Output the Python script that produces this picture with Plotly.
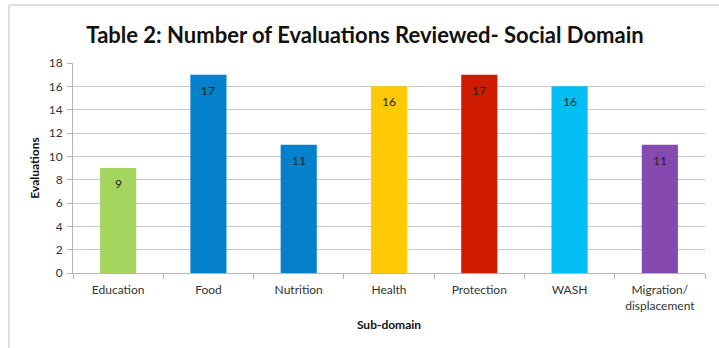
import plotly.graph_objects as go

categories = ["Education", "Food", "Nutrition", "Health", "Protection", "WASH", "Migration/<br>displacement"]
values = [9, 17, 11, 16, 17, 16, 11]
colors = ["#A3D55F", "#0580CB", "#0580CB", "#FFCA05", "#CF1B00", "#03BEF2", "#8549B0"]
y_ticks = list(range(0, 19, 2))

W, H = 719, 348
ml, mr, mt, mb = 73, 14, 63, 75
pw, ph = W - ml - mr, H - mt - mb

def px_x(x):
    return (x - ml) / pw

def px_y(y):
    return (H - mb - y) / ph

FONT = "Lato, 'Open Sans', sans-serif"

fig = go.Figure(go.Bar(
    x=categories, y=values, marker=dict(color=colors, line=dict(width=0)),
    width=0.4, hoverinfo="skip",
))

for c, v in zip(categories, values):
    fig.add_annotation(x=c, y=v, text=str(v), showarrow=False, yanchor="top",
                       yshift=-6, font=dict(family=FONT, size=12, color="#222"))

fig.update_layout(
    width=W, height=H, margin=dict(l=ml, r=mr, t=mt, b=mb),
    paper_bgcolor="white", plot_bgcolor="white",
    showlegend=False,
    title=dict(text="<b>Table 2: Number of Evaluations Reviewed- Social Domain</b>",
               x=(365) / W, xanchor="center", y=1 - 35 / H, yanchor="middle",
               font=dict(family=FONT, size=22, color="#111")),
    font=dict(family=FONT, size=12, color="#333"),
    bargap=0.6,
)
fig.update_xaxes(
    showline=True, linecolor="#b5b5b5", linewidth=1,
    ticks="outside", tickson="boundaries", ticklen=5, tickcolor="#b5b5b5",
    ticklabelstandoff=6,
    tickfont=dict(family=FONT, size=12, color="#333"),
    title=dict(text="<b>Sub-domain</b>", font=dict(family=FONT, size=12, color="#111"), standoff=8),
    showgrid=False,
)
fig.update_yaxes(
    range=[0, 18], tickvals=y_ticks, showline=True, linecolor="#b5b5b5", linewidth=1,
    ticks="outside", ticklen=5, tickcolor="#b5b5b5",
    ticklabelstandoff=2,
    showgrid=True, gridcolor="#c8c8c8", gridwidth=1, zeroline=False,
    tickfont=dict(family=FONT, size=12, color="#333"),
    title=dict(text="<b>Evaluations</b>", font=dict(family=FONT, size=12, color="#111"), standoff=6),
)

# Chart frame edges (top and left)
fig.add_shape(type="line", xref="paper", yref="paper", x0=px_x(9), x1=px_x(719), y0=px_y(5), y1=px_y(5),
              line=dict(color="#d4d4d4", width=1.5))
fig.add_shape(type="line", xref="paper", yref="paper", x0=px_x(9), x1=px_x(9), y0=px_y(5), y1=px_y(348),
              line=dict(color="#d4d4d4", width=1.5))

fig.write_html("out.html")
